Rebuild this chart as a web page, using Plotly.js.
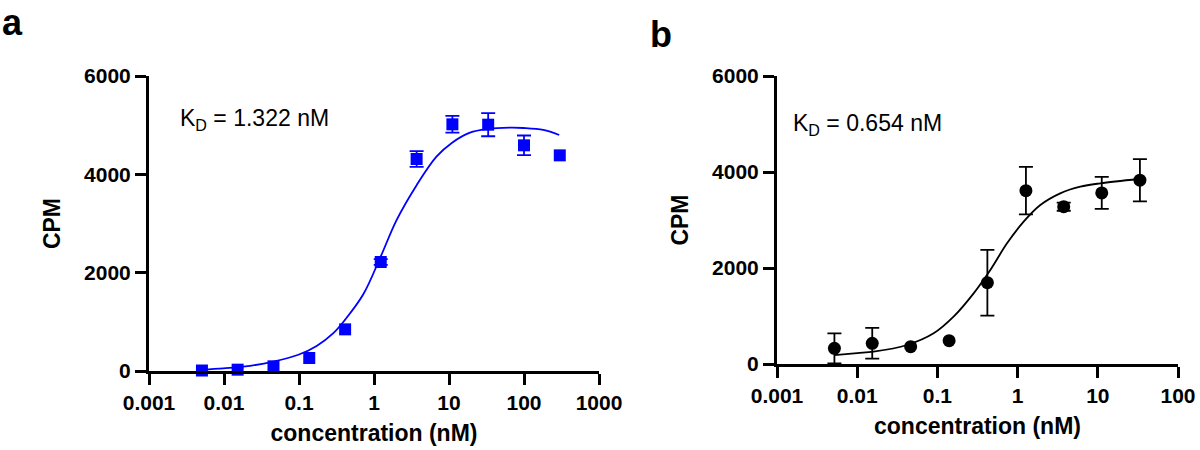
<!DOCTYPE html>
<html>
<head>
<meta charset="utf-8">
<script src="https://cdn.plot.ly/plotly-3.0.1.min.js"></script>
<style>
  html, body { margin: 0; padding: 0; background: #fff; }
  #chart { width: 1200px; height: 450px; }
</style>
</head>
<body>
<div id="chart"></div>
<script>
// panel a: measured points (nM, CPM) and error (NaN = no bar drawn)
const concA = [0.00508, 0.0152, 0.0457, 0.137, 0.412, 1.23, 3.70, 11.1, 33.3, 100, 300]
const cpmA = [10, 27, 95, 264, 847, 2217, 4312, 5017, 5010, 4590, 4386]
const errA = [NaN, NaN, NaN, NaN, NaN, 60, 160, 170, 235, 200, NaN]

// panel a: fitted curve
const fitConcA = [0.0051, 0.0098, 0.0222, 0.0455, 0.098, 0.172, 0.287, 0.41, 0.72, 1.23, 2.0, 3.7, 6.8, 11, 19, 32.8, 65, 99, 181, 295]
const fitCpmA = [30, 55, 105, 190, 330, 510, 770, 1040, 1560, 2330, 3070, 3780, 4360, 4644, 4848, 4922, 4949, 4942, 4902, 4800]

// panel b
const concB = [0.0052, 0.0154, 0.0464, 0.14, 0.42, 1.27, 3.76, 11.2, 33.5]
const cpmB = [326, 431, 361, 486, 1694, 3611, 3278, 3565, 3829]
const errB = [312, 320, NaN, NaN, 685, 495, 85, 333, 440]

const fitConcB = [0.0052, 0.01, 0.016, 0.0418, 0.0898, 0.159, 0.283, 0.457, 0.738, 1.19, 1.92, 3.4, 6.05, 10.7, 32.6]
const fitCpmB = [185, 228, 257, 396, 639, 986, 1472, 1958, 2514, 2965, 3312, 3556, 3694, 3764, 3854]

const xTicksA = [0.001, 0.01, 0.1, 1, 10, 100, 1000]
const xTicksB = [0.001, 0.01, 0.1, 1, 10, 100]
const yTicks = [0, 2000, 4000, 6000]

const kdA = 'K<sub>D</sub> = 1.322 nM'
const kdB = 'K<sub>D</sub> = 0.654 nM'

const FONT = 'Liberation Sans, Arial, Helvetica, sans-serif'
const BLUE = '#0000ff'

function xAxis(domain, ticks, anchor) {
    return {
        domain: domain,
        anchor: anchor,
        type: 'log',
        range: [Math.log10(ticks[0]), Math.log10(ticks[ticks.length - 1])],
        tickvals: ticks,
        ticktext: ticks.map(t => String(t)),
        showline: true, linecolor: '#000', linewidth: 3,
        ticks: 'outside', ticklen: 11, tickwidth: 3, tickcolor: '#000',
        showgrid: false, zeroline: false,
        tickfont: {family: FONT, size: 21, color: '#000', weight: 'bold'},
        title: {text: 'concentration (nM)', standoff: 12,
            font: {family: FONT, size: 23, color: '#000', weight: 'bold'}},
    }
}

function yAxis(domain, anchor) {
    return {
        domain: domain,
        anchor: anchor,
        range: [0, 6000],
        tickvals: yTicks,
        ticktext: yTicks.map(t => String(t)),
        showline: true, linecolor: '#000', linewidth: 3,
        ticks: 'outside', ticklen: 11, tickwidth: 3, tickcolor: '#000',
        showgrid: false, zeroline: false,
        tickfont: {family: FONT, size: 21, color: '#000', weight: 'bold'},
        title: {text: 'CPM', standoff: 18,
            font: {family: FONT, size: 23, color: '#000', weight: 'bold'}},
    }
}

let data = [
    {
        x: fitConcA, y: fitCpmA, xaxis: 'x', yaxis: 'y',
        type: 'scatter', mode: 'lines',
        line: {color: BLUE, width: 1.8, shape: 'spline'},
        hoverinfo: 'skip',
    },
    {
        x: concA, y: cpmA, xaxis: 'x', yaxis: 'y',
        type: 'scatter', mode: 'markers', cliponaxis: false,
        marker: {symbol: 'square', size: 12, color: BLUE},
        error_y: {type: 'data', array: errA, visible: true, color: BLUE, thickness: 1.8, width: 7},
    },
    {
        x: fitConcB, y: fitCpmB, xaxis: 'x2', yaxis: 'y2',
        type: 'scatter', mode: 'lines',
        line: {color: '#000', width: 1.8, shape: 'spline'},
        hoverinfo: 'skip',
    },
    {
        x: concB, y: cpmB, xaxis: 'x2', yaxis: 'y2',
        type: 'scatter', mode: 'markers', cliponaxis: false,
        marker: {symbol: 'circle', size: 13, color: '#000'},
        error_y: {type: 'data', array: errB, visible: true, color: '#000', thickness: 1.8, width: 7},
    },
]

let layout = {
    width: 1200,
    height: 450,
    margin: {l: 0, r: 0, t: 0, b: 0},
    paper_bgcolor: '#fff',
    plot_bgcolor: '#fff',
    showlegend: false,
    font: {family: FONT, color: '#000'},
    xaxis: xAxis([149 / 1200, 599 / 1200], xTicksA, 'y'),
    yaxis: yAxis([1 - 371 / 450, 1 - 76 / 450], 'x'),
    xaxis2: xAxis([777 / 1200, 1178 / 1200], xTicksB, 'y2'),
    yaxis2: yAxis([1 - 364 / 450, 1 - 76 / 450], 'x2'),
    annotations: [
        {text: 'a', xref: 'paper', yref: 'paper', x: 0, y: 1, xanchor: 'left', yanchor: 'top',
            showarrow: false, font: {family: FONT, size: 36, weight: 'bold'}},
        {text: 'b', xref: 'paper', yref: 'paper', x: 648 / 1200, y: 1 - 12 / 450, xanchor: 'left', yanchor: 'top',
            showarrow: false, font: {family: FONT, size: 36, weight: 'bold'}},
        {text: kdA, xref: 'paper', yref: 'paper', x: 178 / 1200, y: 1 - 120 / 450, xanchor: 'left', yanchor: 'middle',
            showarrow: false, font: {family: FONT, size: 23}},
        {text: kdB, xref: 'paper', yref: 'paper', x: 791 / 1200, y: 1 - 124 / 450, xanchor: 'left', yanchor: 'middle',
            showarrow: false, font: {family: FONT, size: 23}},
    ],
}

Plotly.newPlot('chart', data, layout, {staticPlot: true})
</script>
</body>
</html>
